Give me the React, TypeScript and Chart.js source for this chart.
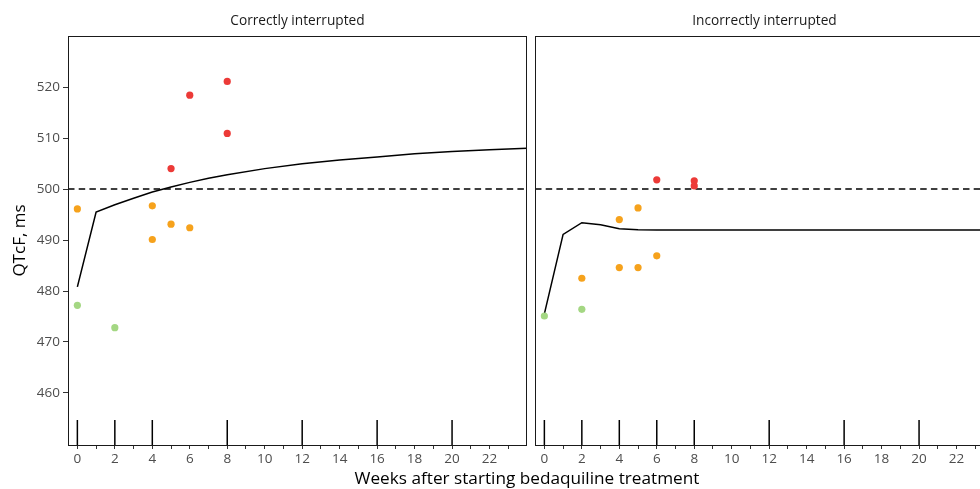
import React, { useEffect, useRef } from 'react';
import { Chart, registerables } from 'chart.js';

Chart.register(...registerables);

const FONT = "'Open Sans', 'Noto Sans', sans-serif";

// ---- Panel titles / axis titles ----
const panelTitles = ['Correctly interrupted', 'Incorrectly interrupted'];
const yAxisTitle = 'QTcF, ms';
const xAxisTitle = 'Weeks after starting bedaquiline treatment';

// ---- Ticks ----
const xTickValues = [0, 1, 2, 3, 4, 5, 6, 7, 8, 9, 10, 11, 12, 13, 14, 15, 16, 17, 18, 19, 20, 21, 22, 23];
const yTickValues = [460, 470, 480, 490, 500, 510, 520];

// ---- Threshold ----
const thresholdMs = 500;

// ---- Correctly interrupted ----
const correctGreenX = [0, 2];
const correctGreenY = [477.2, 472.8];
const correctOrangeX = [0, 4, 4, 5, 6];
const correctOrangeY = [496.1, 496.7, 490.1, 493.1, 492.4];
const correctRedX = [5, 6, 8, 8];
const correctRedY = [504.0, 518.4, 521.1, 510.9];
const correctCurveX = [0, 1, 2, 3, 4, 5, 6, 7, 8, 10, 12, 14, 16, 18, 20, 22, 24];
const correctCurveY = [480.8, 495.5, 496.9, 498.2, 499.4, 500.4, 501.3, 502.1, 502.8, 504.0, 504.95, 505.7, 506.3, 506.9, 507.35, 507.7, 508.0];
const correctRugWeeks = [0, 2, 4, 8, 12, 16, 20];

// ---- Incorrectly interrupted ----
const incorrectGreenX = [0, 2];
const incorrectGreenY = [475.1, 476.4];
const incorrectOrangeX = [2, 4, 4, 5, 5, 6];
const incorrectOrangeY = [482.5, 494.0, 484.6, 496.3, 484.6, 486.9];
const incorrectRedX = [6, 8, 8];
const incorrectRedY = [501.8, 501.6, 500.6];
const incorrectCurveX = [0, 1, 2, 3, 4, 5, 6, 8, 12, 16, 20, 24];
const incorrectCurveY = [475.5, 491.1, 493.4, 493.0, 492.2, 492.0, 491.95, 491.95, 491.95, 491.95, 491.95, 491.95];
const incorrectRugWeeks = [0, 2, 4, 6, 8, 12, 16, 20];

const X_MIN = -0.5;
const X_MAX = 24;
const Y_MIN = 449.8;
const Y_MAX = 530;

const RED = '#EC3A37';
const ORANGE = '#F6A21C';
const GREEN = '#A4D783';

const zip = (xs: number[], ys: number[]) => xs.map((x, i) => ({ x, y: ys[i] }));

const boxPlugin = {
  id: 'panelBox',
  afterDraw(chart: any) {
    const { ctx, chartArea } = chart;
    const l = Math.floor(chartArea.left) + 0.5;
    const t = Math.floor(chartArea.top) + 0.5;
    const r = Math.floor(chartArea.right) - 0.5;
    const b = Math.floor(chartArea.bottom) + 0.5;
    ctx.save();
    ctx.strokeStyle = '#1a1a1a';
    ctx.lineWidth = 1;
    ctx.strokeRect(l, t, r - l, b - t);
    ctx.restore();
  },
};

function buildConfig(p: {
  title: string;
  greenX: number[]; greenY: number[];
  orangeX: number[]; orangeY: number[];
  redX: number[]; redY: number[];
  curveX: number[]; curveY: number[];
  rug: number[];
  showY: boolean;
  padding: any;
}): any {
  const pt = { pointRadius: 3.6, borderWidth: 0, pointHoverRadius: 3.6 };
  return {
    type: 'scatter',
    data: {
      datasets: [
        { data: zip(p.redX, p.redY), backgroundColor: RED, ...pt },
        { data: zip(p.orangeX, p.orangeY), backgroundColor: ORANGE, ...pt },
        { data: zip(p.greenX, p.greenY), backgroundColor: GREEN, ...pt },
        {
          type: 'line',
          data: zip(p.curveX, p.curveY),
          borderColor: '#000',
          borderWidth: 1.5,
          pointRadius: 0,
          tension: 0,
          fill: false,
        },
        {
          type: 'line',
          data: [{ x: X_MIN, y: thresholdMs }, { x: X_MAX, y: thresholdMs }],
          borderColor: '#000',
          borderWidth: 1.4,
          borderDash: [6.5, 4.2],
          pointRadius: 0,
          fill: false,
        },
        {
          data: p.rug.map((w) => ({ x: w, y: 452.25 })),
          pointStyle: 'line',
          pointRotation: 90,
          pointRadius: 12.5,
          pointBorderColor: '#000',
          pointBorderWidth: 1.5,
          borderColor: '#000',
          borderWidth: 1.5,
        },
      ],
    },
    options: {
      responsive: false,
      animation: false,
      events: [],
      layout: { padding: p.padding, autoPadding: false },
      plugins: {
        legend: { display: false },
        tooltip: { enabled: false },
        title: {
          display: true,
          fullSize: false,
          text: p.title,
          color: '#1a1a1a',
          font: { family: FONT, size: 13.7, weight: 'normal' },
          padding: { top: 12.6, bottom: 7 },
        },
      },
      scales: {
        x: {
          type: 'linear',
          min: X_MIN,
          max: X_MAX,
          afterBuildTicks: (s: any) => {
            s.ticks = xTickValues.map((v) => ({ value: v }));
          },
          afterFit: (s: any) => {
            s.height = 44;
            s.paddingLeft = 0;
            s.paddingRight = 0;
          },
          ticks: {
            autoSkip: false,
            maxRotation: 0,
            minRotation: 0,
            color: '#4d4d4d',
            font: { family: FONT, size: 13.5 },
            padding: 2,
            callback: (v: any) => (Number(v) % 2 === 0 ? String(v) : ''),
          },
          grid: { drawOnChartArea: false, drawTicks: true, tickLength: 4, color: '#333' },
          border: { display: false },
        },
        y: {
          type: 'linear',
          display: p.showY,
          min: Y_MIN,
          max: Y_MAX,
          afterBuildTicks: (s: any) => {
            s.ticks = yTickValues.map((v) => ({ value: v }));
          },
          afterFit: (s: any) => {
            s.width = p.showY ? 68 : 0;
            s.paddingTop = 0;
            s.paddingBottom = 0;
          },
          ticks: {
            color: '#4d4d4d',
            font: { family: FONT, size: 13.5 },
            padding: 3,
          },
          grid: { drawOnChartArea: false, drawTicks: true, tickLength: 5, color: '#333' },
          border: { display: false },
          title: {
            display: true,
            text: yAxisTitle,
            color: '#000',
            font: { family: FONT, size: 17 },
            padding: { top: 10, bottom: 0 },
          },
        },
      },
    },
    plugins: [boxPlugin],
  };
}

export default function App() {
  const leftRef = useRef<HTMLCanvasElement>(null);
  const rightRef = useRef<HTMLCanvasElement>(null);

  useEffect(() => {
    Chart.defaults.font.family = FONT;
    const left = new Chart(
      leftRef.current as HTMLCanvasElement,
      buildConfig({
        title: panelTitles[0],
        greenX: correctGreenX, greenY: correctGreenY,
        orangeX: correctOrangeX, orangeY: correctOrangeY,
        redX: correctRedX, redY: correctRedY,
        curveX: correctCurveX, curveY: correctCurveY,
        rug: correctRugWeeks,
        showY: true,
        padding: { left: 0, right: 4, top: 0, bottom: 0 },
      })
    );
    const right = new Chart(
      rightRef.current as HTMLCanvasElement,
      buildConfig({
        title: panelTitles[1],
        greenX: incorrectGreenX, greenY: incorrectGreenY,
        orangeX: incorrectOrangeX, orangeY: incorrectOrangeY,
        redX: incorrectRedX, redY: incorrectRedY,
        curveX: incorrectCurveX, curveY: incorrectCurveY,
        rug: incorrectRugWeeks,
        showY: false,
        padding: { left: 4, right: 6, top: 0, bottom: 0 },
      })
    );
    return () => {
      left.destroy();
      right.destroy();
    };
  }, []);

  return (
    <div
      style={{
        position: 'absolute',
        left: 0,
        top: 0,
        width: 980,
        height: 489,
        overflow: 'hidden',
        background: '#fff',
      }}
    >
      <canvas
        ref={leftRef}
        width={531}
        height={489}
        style={{ position: 'absolute', left: 0, top: 0, width: 531, height: 489 }}
      />
      <canvas
        ref={rightRef}
        width={469}
        height={489}
        style={{ position: 'absolute', left: 531, top: 0, width: 469, height: 489 }}
      />
      <div
        style={{
          position: 'absolute',
          left: 0,
          top: 468,
          width: 1054,
          textAlign: 'center',
          fontFamily: FONT,
          fontSize: 17.2,
          lineHeight: '20px',
          color: '#000',
          whiteSpace: 'nowrap',
        }}
      >
        {xAxisTitle}
      </div>
    </div>
  );
}
